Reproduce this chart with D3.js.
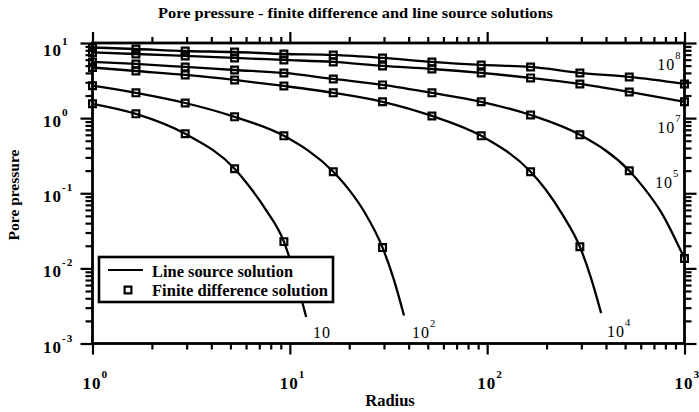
<!DOCTYPE html>
<html>
<head>
<meta charset="utf-8">
<script src="https://cdn.jsdelivr.net/npm/d3@7"></script>
<style>
  body { margin: 0; background: #fff; }
  svg { display: block; font-family: "Liberation Serif", "DejaVu Serif", serif; }
</style>
</head>
<body>
<div id="chart"></div>
<script>
// radii of the finite difference grid nodes (markers)
var markerRadius = [1, 1.66, 2.95, 5.25, 9.33, 16.6, 29.5, 52.5, 93.3, 166, 295, 525, 1000];

// finite difference pressures, one array per time, read along markerRadius
var fdT10  = [1.55, 1.14, 0.618, 0.212, 0.0227];
var fdT1e2 = [2.7, 2.17, 1.59, 1.04, 0.581, 0.193, 0.0189];
var fdT1e4 = [4.72, 4.24, 3.76, 3.22, 2.68, 2.17, 1.65, 1.07, 0.581, 0.193, 0.0194];
var fdT1e5 = [5.59, 5.26, 4.80, 4.37, 3.99, 3.32, 2.77, 2.17, 1.65, 1.10, 0.599, 0.199, 0.0135];
var fdT1e7 = [7.48, 7.14, 6.72, 6.32, 5.95, 5.59, 4.95, 4.51, 3.99, 3.43, 2.85, 2.23, 1.65];
var fdT1e8 = [8.71, 8.32, 7.83, 7.59, 7.14, 6.93, 6.32, 5.59, 5.10, 4.80, 3.99, 3.53, 2.85];

// line source solution, radius / pressure pairs
var lineT10R  = [1, 1.66, 2.95, 5.25, 6.21, 7.58, 9.33, 10.6, 12.1];
var lineT10P  = [1.55, 1.14, 0.618, 0.212, 0.125, 0.0597, 0.0227, 0.0081, 0.00225];
var lineT1e2R = [1, 1.66, 2.95, 5.25, 9.33, 16.6, 19.7, 24.0, 29.5, 33.6, 37.9];
var lineT1e2P = [2.7, 2.17, 1.59, 1.04, 0.581, 0.193, 0.116, 0.055, 0.0189, 0.0072, 0.00236];
var lineT1e4R = [1, 1.66, 2.95, 5.25, 9.33, 16.6, 29.5, 52.5, 93.3, 166, 197, 240, 295, 336, 378];
var lineT1e4P = [4.72, 4.24, 3.76, 3.22, 2.68, 2.17, 1.65, 1.07, 0.581, 0.193, 0.114, 0.0528, 0.0194, 0.00743, 0.00254];
var lineT1e5R = [1, 1.66, 2.95, 5.25, 9.33, 16.6, 29.5, 52.5, 93.3, 166, 295, 525, 624, 761, 1000];
var lineT1e5P = [5.59, 5.26, 4.80, 4.37, 3.99, 3.32, 2.77, 2.17, 1.65, 1.10, 0.599, 0.199, 0.117, 0.0562, 0.0135];
var lineT1e7R = markerRadius;
var lineT1e7P = fdT1e7;
var lineT1e8R = markerRadius;
var lineT1e8P = fdT1e8;

// curve labels (times) and where they sit, in data units
var curveLabelSup = ["", "2", "4", "5", "7", "8"];
var curveLabelR = [13.1, 41.6, 405, 709, 727, 727];
var curveLabelP = [0.00118, 0.00118, 0.00122, 0.117, 0.634, 4.37];

var xTickExp = [0, 1, 2, 3];
var yTickExp = [1, 0, -1, -2, -3];

var width = 699, height = 412;
var svg = d3.select("#chart").append("svg")
    .attr("width", width)
    .attr("height", height);

var x = d3.scaleLog().domain([1, 1000]).range([92.5, 684.5]);
var y = d3.scaleLog().domain([1e-3, 10]).range([343.5, 43]);

var series = [
    {r: lineT10R, p: lineT10P, fd: fdT10},
    {r: lineT1e2R, p: lineT1e2P, fd: fdT1e2},
    {r: lineT1e4R, p: lineT1e4P, fd: fdT1e4},
    {r: lineT1e5R, p: lineT1e5P, fd: fdT1e5},
    {r: lineT1e7R, p: lineT1e7P, fd: fdT1e7},
    {r: lineT1e8R, p: lineT1e8P, fd: fdT1e8}
];

// ticks: decades are major, the rest minor
var majors = xTickExp.map(function(e) { return Math.pow(10, e); });
var minorsX = [];
for (var d = 1; d < 1000; d *= 10)
    for (var k = 2; k <= 9; k++) minorsX.push(d * k);
var yMajors = yTickExp.map(function(e) { return Math.pow(10, e); });
var minorsY = [];
for (var d2 = 1e-3; d2 < 10; d2 *= 10)
    for (var k2 = 2; k2 <= 9; k2++) minorsY.push(d2 * k2);

function tickAxis(axis, vals, size, tr) {
    var g = svg.append("g").attr("transform", tr)
        .call(axis.tickValues(vals).tickSize(size).tickSizeOuter(0).tickFormat(""));
    g.select(".domain").remove();
    g.selectAll("line").attr("stroke", "#000").attr("stroke-width", 2.2);
}
tickAxis(d3.axisBottom(x), minorsX, 6, "translate(0," + y.range()[0] + ")");
tickAxis(d3.axisBottom(x), majors, 11, "translate(0," + y.range()[0] + ")");
tickAxis(d3.axisTop(x), minorsX, 6, "translate(0," + y.range()[1] + ")");
tickAxis(d3.axisTop(x), majors, 11, "translate(0," + y.range()[1] + ")");
tickAxis(d3.axisLeft(y), minorsY, 7, "translate(" + x.range()[0] + ",0)");
tickAxis(d3.axisLeft(y), yMajors, 12, "translate(" + x.range()[0] + ",0)");
tickAxis(d3.axisRight(y), minorsY, 7, "translate(" + x.range()[1] + ",0)");
tickAxis(d3.axisRight(y), yMajors, 12, "translate(" + x.range()[1] + ",0)");

// frame
svg.append("rect")
    .attr("x", x.range()[0]).attr("y", y.range()[1])
    .attr("width", x.range()[1] - x.range()[0])
    .attr("height", y.range()[0] - y.range()[1])
    .attr("fill", "none").attr("stroke", "#000").attr("stroke-width", 2.8);

// power-of-ten label: "10" plus superscript
function pow10(g, px, py, sup, size, weight) {
    var t = g.append("text")
        .attr("x", px).attr("y", py)
        .attr("font-size", size).attr("font-weight", weight)
        .attr("letter-spacing", 1);
    t.append("tspan").text("10");
    if (sup !== "")
        t.append("tspan").attr("dy", -11).attr("font-size", size * 0.66).text(sup);
    return t;
}

var labels = svg.append("g");
xTickExp.forEach(function(e) {
    pow10(labels, x(Math.pow(10, e)) - 10, 389, String(e), 17, "bold");
});
yTickExp.forEach(function(e) {
    var yy = y(Math.pow(10, e)) + (e === 1 ? 13 : 9);
    pow10(labels, 43, yy, String(e), 17, "bold");
});

// lines
var line = d3.line()
    .x(function(d) { return x(d[0]); })
    .y(function(d) { return y(d[1]); })
    .curve(d3.curveMonotoneX);

var plot = svg.append("g");
series.forEach(function(s) {
    var pts = s.r.map(function(r, i) { return [r, s.p[i]]; });
    plot.append("path")
        .attr("d", line(pts))
        .attr("fill", "none")
        .attr("stroke", "#000")
        .attr("stroke-width", 2.3);
});

var square = d3.symbol(d3.symbolSquare, 46);
series.forEach(function(s) {
    plot.selectAll(null)
        .data(s.fd)
        .enter()
        .append("path")
        .attr("d", square)
        .attr("transform", function(d, i) {
            return "translate(" + x(markerRadius[i]) + "," + y(d) + ")";
        })
        .attr("fill", "none")
        .attr("stroke", "#000")
        .attr("stroke-width", 2.2);
});

// curve labels
curveLabelSup.forEach(function(sp, i) {
    pow10(labels, x(curveLabelR[i]), y(curveLabelP[i]), sp, 16, "normal");
});

// legend
var leg = svg.append("g");
leg.append("rect")
    .attr("x", 99).attr("y", 257).attr("width", 234).attr("height", 45)
    .attr("fill", "#fff").attr("stroke", "#000").attr("stroke-width", 2.6);
leg.append("line")
    .attr("x1", 108).attr("x2", 143).attr("y1", 270).attr("y2", 270)
    .attr("stroke", "#000").attr("stroke-width", 2.2);
leg.append("path")
    .attr("d", square)
    .attr("transform", "translate(128,290)")
    .attr("fill", "none").attr("stroke", "#000").attr("stroke-width", 2.2);
leg.append("text")
    .attr("x", 152).attr("y", 277)
    .attr("font-size", 16.5).attr("font-weight", "bold")
    .attr("textLength", 141).attr("lengthAdjust", "spacingAndGlyphs")
    .text("Line source solution");
leg.append("text")
    .attr("x", 152).attr("y", 296)
    .attr("font-size", 16.5).attr("font-weight", "bold")
    .attr("textLength", 176).attr("lengthAdjust", "spacingAndGlyphs")
    .text("Finite difference solution");

// titles
svg.append("text")
    .attr("x", 158).attr("y", 18)
    .attr("font-size", 14.5).attr("font-weight", "bold")
    .attr("textLength", 395).attr("lengthAdjust", "spacingAndGlyphs")
    .text("Pore pressure - finite difference and line source solutions");
svg.append("text")
    .attr("x", 390).attr("y", 406)
    .attr("text-anchor", "middle")
    .attr("font-size", 16.5).attr("font-weight", "bold")
    .text("Radius");
svg.append("text")
    .attr("transform", "translate(19,195) rotate(-90)")
    .attr("text-anchor", "middle")
    .attr("font-size", 15.5).attr("font-weight", "bold")
    .text("Pore pressure");
</script>
</body>
</html>
